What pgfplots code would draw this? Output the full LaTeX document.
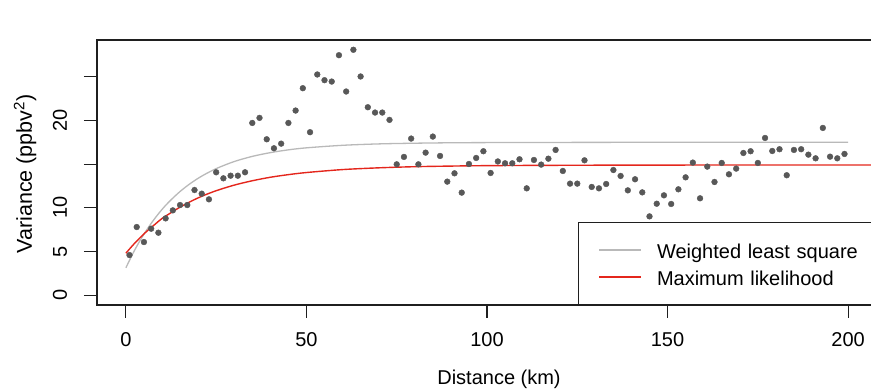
\documentclass[border=0pt]{standalone}
\usepackage{pgfplots}
\pgfplotsset{compat=1.18}
\usepackage{pgfplotstable}
\usepackage{fontspec}
\setmainfont{Liberation Sans}
\definecolor{ptgray}{RGB}{88,88,88}
\definecolor{wlsgray}{RGB}{185,185,185}
\definecolor{mlred}{RGB}{228,38,28}
\pgfplotstableread{
h y
1 4.59
3 7.80
5 6.08
7 7.61
9 7.15
11 8.79
13 9.71
15 10.32
17 10.32
19 12.04
21 11.62
23 10.97
25 14.07
27 13.38
29 13.68
31 13.68
33 14.07
35 19.72
37 20.30
39 17.85
41 16.82
43 17.35
45 19.72
47 21.14
49 23.70
51 18.66
53 25.27
55 24.62
57 24.46
59 27.48
61 23.32
63 28.10
65 25.04
67 21.52
69 20.91
71 20.91
73 20.07
75 14.98
77 15.83
79 17.93
81 14.98
83 16.32
85 18.16
87 15.94
89 13.00
91 13.95
93 11.74
95 15.02
97 15.71
99 16.48
101 13.99
103 15.31
105 15.10
107 15.10
109 15.56
111 12.23
113 15.48
115 14.95
117 15.63
119 16.63
121 14.22
123 12.77
125 12.77
127 15.44
129 12.39
131 12.23
133 12.73
135 14.33
137 13.65
139 12.00
141 13.27
143 11.77
145 9.02
147 10.47
149 11.43
151 10.44
153 12.12
155 13.49
157 15.18
159 11.09
161 14.72
163 12.96
165 15.14
167 13.84
169 14.49
171 16.28
173 16.48
175 15.14
177 18.00
179 16.51
181 16.71
183 13.73
185 16.63
187 16.71
189 16.09
191 15.67
193 19.15
195 15.86
197 15.67
199 16.17
}\semivar
\pgfplotstableread{
h g
0 3.13
2 4.82
4 6.31
6 7.62
8 8.78
10 9.81
12 10.71
15 11.87
18 12.83
21 13.63
25 14.49
30 15.30
35 15.89
40 16.32
45 16.64
50 16.87
60 17.16
70 17.32
80 17.40
90 17.45
100 17.47
120 17.49
140 17.50
160 17.50
180 17.50
200 17.50
}\wls
\pgfplotstableread{
h r
0 4.80
2 5.75
4 6.61
6 7.39
8 8.09
10 8.78
12 9.31
15 10.08
18 10.74
21 11.32
25 11.96
30 12.60
35 13.10
40 13.50
45 13.80
50 14.04
60 14.38
70 14.58
80 14.71
90 14.78
100 14.83
120 14.87
140 14.89
160 14.90
180 14.90
200 14.90
208 14.90
}\ml
\begin{document}
\begin{tikzpicture}
\useasboundingbox (-97pt,-86pt) rectangle (774pt,305pt);
\begin{axis}[
  scale only axis,
  width=780pt, height=265pt,
  xmin=-8, xmax=208,
  ymin=-1.13, ymax=29.22,
  font=\fontsize{20}{24}\selectfont,
  /pgf/number format/assume math mode=true,
  axis line style={line width=1.4pt, black!88},
  tick style={line width=1.2pt, black!88},
  tick align=outside,
  major tick length=13pt,
  tick pos=left,
  xtick={0,50,100,150,200},
  xticklabels={0,50,100,150,200},
  ytick={0,5,10,15,20,25},
  yticklabels={0,5,10,,20,},
  xticklabel style={anchor=base, yshift=-29pt},
  yticklabel style={rotate=90, anchor=base, yshift=17pt},
  legend style={at={(rel axis cs:0.6167,0)}, anchor=south west,
    draw=black!88, line width=1.2pt, inner xsep=20pt, inner ysep=16.5pt,
    font=\fontsize{20}{24}\selectfont,
    nodes={inner sep=0pt, text height=19.5pt, text depth=2.5pt, text width=250pt},
    column sep=0pt, row sep=5pt},
  legend cell align=left,
  legend image code/.code={\draw[#1] (0pt,0pt) -- (42pt,0pt);},
]
\addplot[only marks, mark=*, mark size=2.9pt, draw=ptgray, fill=ptgray, forget plot] table[x=h,y=y]{\semivar};
\addplot[wlsgray, line width=1.3pt, smooth] table[x=h,y=g]{\wls};
\addlegendentry{\hspace*{15pt}Weighted least square}
\addplot[mlred, line width=1.4pt, smooth] table[x=h,y=r]{\ml};
\addlegendentry{\hspace*{15pt}Maximum likelihood}
\node[anchor=base, font=\fontsize{20.6}{24}\selectfont] at (axis description cs:0.2983,1.0509) {Partial sill = 10.1, range = 60.8, nugget = 4.8};
\end{axis}
\node[anchor=base, font=\fontsize{20}{24}\selectfont] at (402pt,-79pt) {Distance (km)};
\node[anchor=base, rotate=90, font=\fontsize{21.5}{24}\selectfont] at (-65pt,131pt) {Variance (ppbv\textsuperscript{2})};
\end{tikzpicture}
\end{document}
